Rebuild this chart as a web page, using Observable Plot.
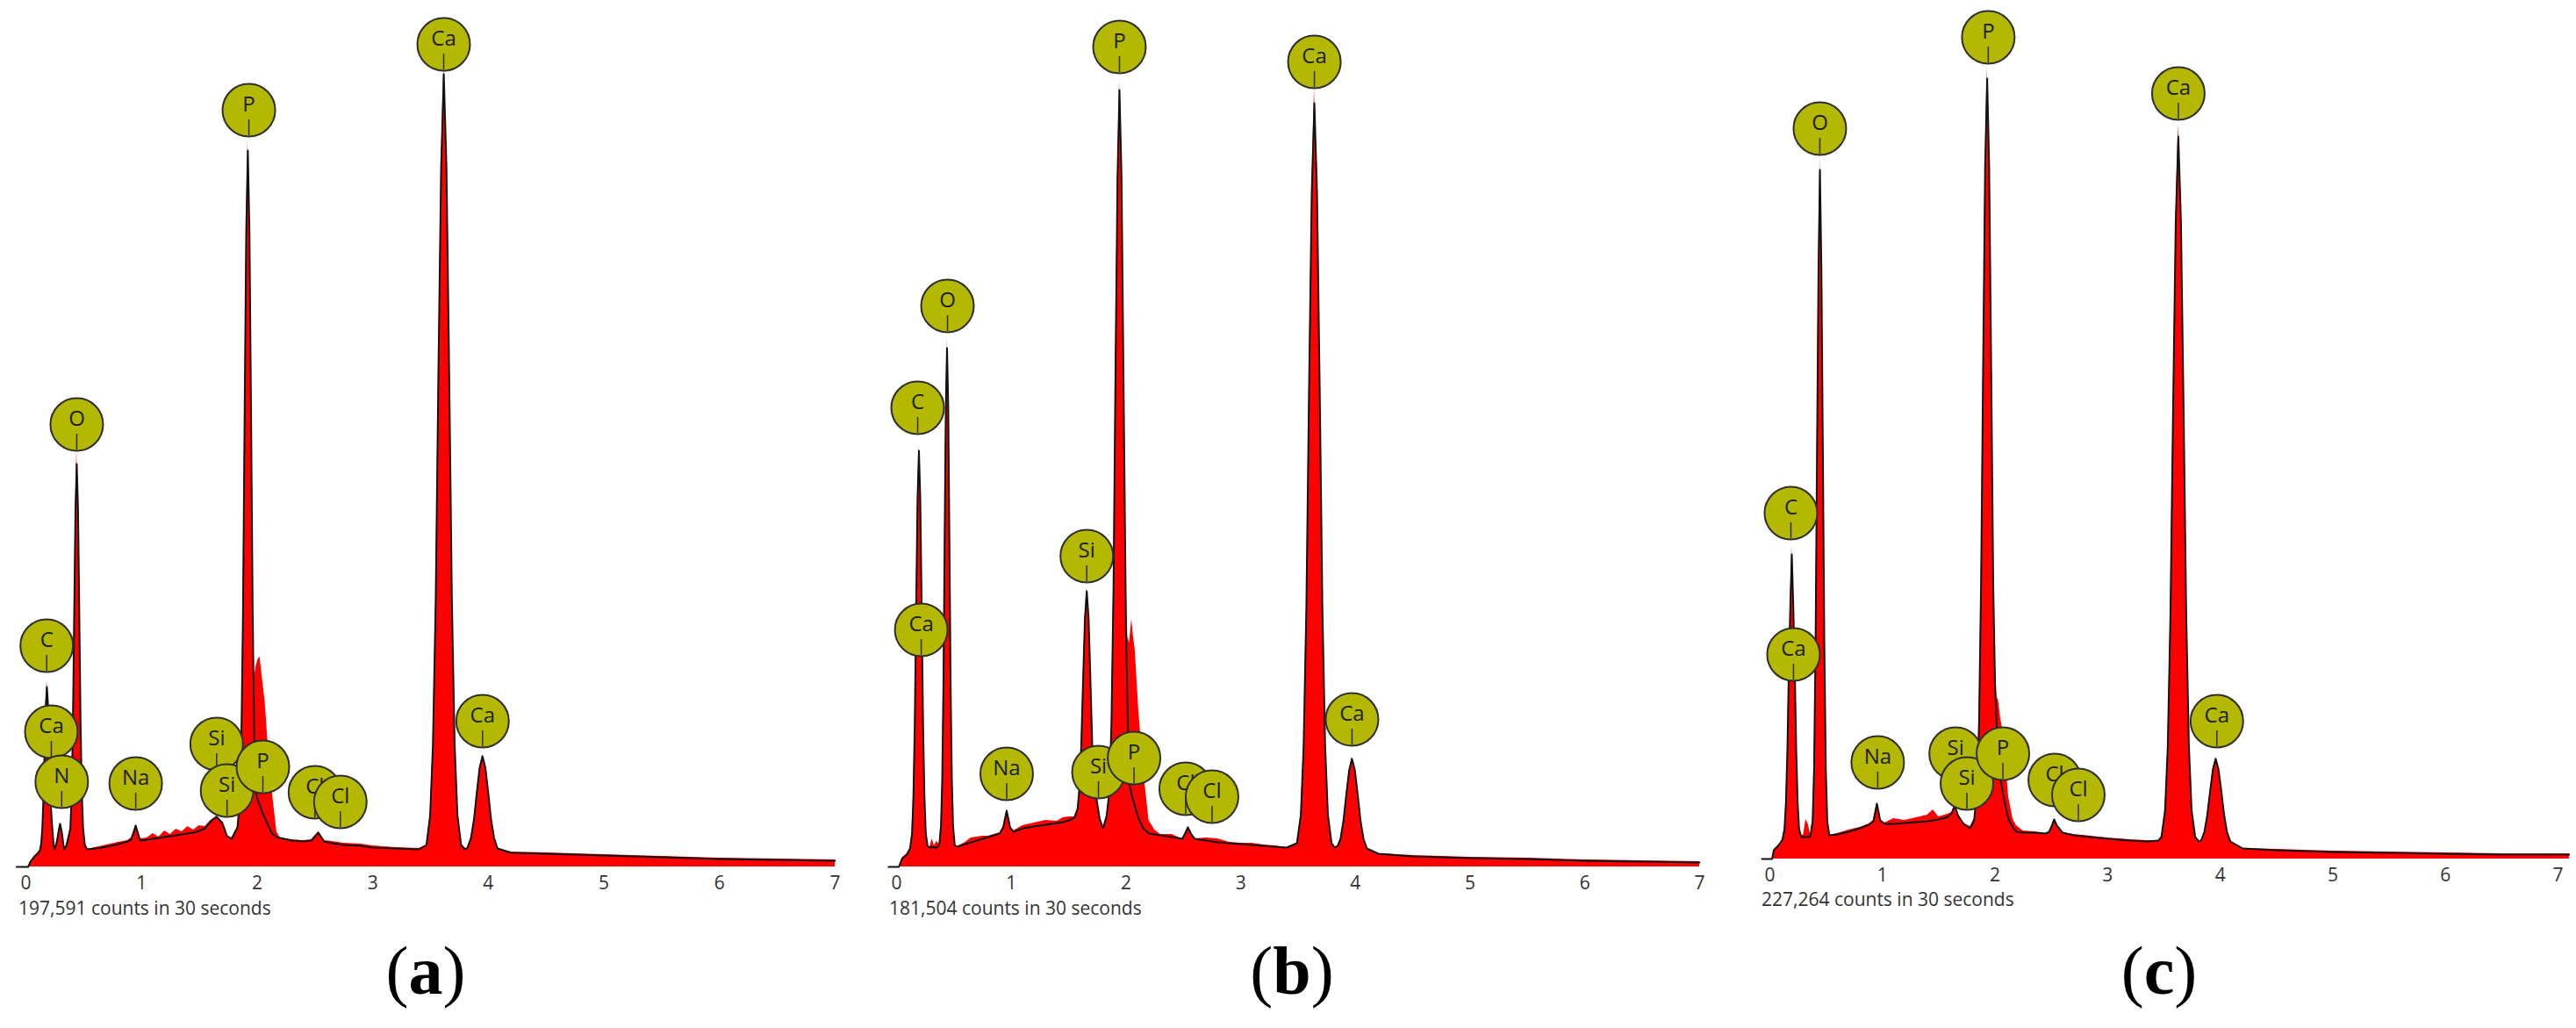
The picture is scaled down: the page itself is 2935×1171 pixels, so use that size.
<!DOCTYPE html>
<html><head><meta charset="utf-8">
<script src="https://cdn.jsdelivr.net/npm/d3@7"></script>
<script src="https://cdn.jsdelivr.net/npm/@observablehq/plot@0.6"></script>
<style>
html,body{margin:0;padding:0;background:#fff;}
#root{position:relative;width:2935px;height:1171px;overflow:hidden;background:#fff;}
.panel{position:absolute;top:0;}
.counts{position:absolute;font-family:"Open Sans";font-size:21px;line-height:21px;color:#333;white-space:nowrap;}
.tag{position:absolute;width:200px;text-align:center;font-family:"Liberation Serif";font-size:78px;line-height:78px;color:#000;}
.tag b{font-weight:bold;}
</style></head><body><div id="root"></div>
<script>
// x-axis ticks (keV)
const xTicks = [0, 1, 2, 3, 4, 5, 6, 7];
const panelTags = ["a", "b", "c"];
const countsText = ["197,591 counts in 30 seconds", "181,504 counts in 30 seconds", "227,264 counts in 30 seconds"];

// spectra: [energy keV, measured counts (red), fitted outline counts (black)]
const spectrumA = [
[-0.08,0,0],[0.02,0,0],[0.04,6,6],[0.07,12,11],[0.10,16,15],[0.12,19,18],[0.132,26,26],[0.142,43,43],
[0.152,78,78],[0.162,132,132],[0.172,183,183],[0.182,212,205],[0.192,183,183],[0.202,132,132],[0.212,80,78],
[0.225,52,50],[0.24,26,25],[0.25,21,20],[0.27,31,30],[0.285,43,42],[0.296,50,49],[0.31,41,40],[0.325,26,25],
[0.334,21,20],[0.35,25,24],[0.37,36,35],[0.385,45,44],[0.396,84,84],[0.407,164,164],[0.418,290,290],
[0.429,410,407],[0.44,474,459],[0.451,410,407],[0.462,290,290],[0.473,164,164],[0.484,84,84],[0.495,44,44],
[0.51,25,25],[0.53,20,20],[0.6,22,21],[0.7,25,23],[0.8,28,26],[0.88,30,29],[0.91,33,31],[0.93,40,38],
[0.95,48,47],[0.97,40,38],[0.99,32,30],[1.05,33,31],[1.1,38,32],[1.15,34,33],[1.2,41,34],[1.25,37,35],
[1.3,43,36],[1.35,40,37],[1.4,46,38],[1.45,42,39],[1.5,47,41],[1.55,46,44],[1.6,53,52],[1.65,58,57],
[1.7,51,50],[1.74,36,35],[1.78,33,32],[1.83,45,45],[1.85,74,74],[1.864,145,145],[1.878,288,288],
[1.892,513,513],[1.906,723,723],[1.92,828,816],[1.934,723,723],[1.948,513,513],[1.962,300,288],
[1.976,215,145],[1.99,228,84],[2.01,237,74],[2.025,239,70],[2.045,215,62],[2.07,187,55],[2.1,130,46],
[2.13,87,38],[2.17,40,34],[2.2,33,33],[2.3,31,30],[2.4,30,29],[2.47,31,30],[2.53,40,39],[2.58,30,29],
[2.65,29,27],[2.75,27,25],[2.9,26,24],[3.0,24,22],[3.2,22,21],[3.4,21,20],[3.465,25,25],[3.497,59,59],
[3.521,139,139],[3.545,303,303],[3.568,559,559],[3.592,797,797],[3.615,915,903],[3.638,797,797],
[3.662,559,559],[3.685,303,303],[3.709,139,139],[3.733,59,59],[3.765,25,25],[3.8,20,20],[3.82,22,22],
[3.85,33,33],[3.875,53,53],[3.9,84,84],[3.925,113,113],[3.95,128,126],[3.975,113,113],[4.0,84,84],
[4.025,53,53],[4.05,33,33],[4.08,21,21],[4.2,17,16],[4.5,16,15],[5.0,14,13],[5.5,12,11],[6.0,10,9],
[6.5,9,8],[7.0,8,7]
];
const spectrumB = [
[-0.07,0,0],[0.02,0,0],[0.05,10,10],[0.09,15,14],[0.118,21,21],[0.135,38,38],[0.147,80,80],[0.159,164,164],
[0.171,296,296],[0.183,419,419],[0.195,480,474],[0.207,419,419],[0.219,296,296],[0.231,164,164],[0.243,80,80],
[0.255,38,38],[0.27,24,24],[0.29,22,22],[0.31,32,23],[0.33,24,22],[0.35,29,22],[0.373,26,25],[0.3875,47,47],
[0.398,99,99],[0.4085,204,204],[0.419,369,369],[0.4295,525,523],[0.44,601,591],[0.4505,525,523],
[0.461,369,369],[0.4715,204,204],[0.482,99,99],[0.4925,47,47],[0.507,25,25],[0.53,23,23],[0.6,28,26],
[0.65,33,28],[0.7,34,30],[0.75,35,32],[0.8,35,34],[0.85,37,36],[0.9,39,38],[0.93,46,45],[0.96,65,64],
[0.99,46,45],[1.02,41,40],[1.1,47,44],[1.2,50,46],[1.3,53,48],[1.4,52,50],[1.45,56,51],[1.5,57,53],
[1.55,57,56],[1.578,66,66],[1.594,90,90],[1.61,138,138],[1.626,213,213],[1.642,283,283],[1.658,318,314],
[1.674,283,283],[1.69,213,213],[1.706,138,138],[1.722,100,100],[1.74,80,80],[1.77,55,55],[1.8,44,44],
[1.831,58,58],[1.856,87,87],[1.873,163,163],[1.891,317,317],[1.908,559,559],[1.926,785,785],[1.943,895,885],
[1.961,785,785],[1.978,560,559],[1.99,420,400],[2.0,330,270],[2.015,262,170],[2.03,255,94],[2.05,282,82],
[2.065,262,75],[2.08,247,68],[2.11,180,55],[2.15,113,44],[2.2,53,38],[2.25,42,37],[2.3,37,36],[2.4,37,34],
[2.49,32,32],[2.515,38,38],[2.54,46,45],[2.565,38,38],[2.6,32,32],[2.7,33,30],[2.8,32,28],[2.9,28,27],
[3.0,27,26],[3.1,27,25],[3.2,25,24],[3.3,24,23],[3.4,22,22],[3.49,27,27],[3.524,59,59],[3.548,137,137],
[3.572,294,294],[3.595,539,539],[3.619,768,768],[3.642,887,870],[3.665,768,768],[3.689,539,539],
[3.712,294,294],[3.736,137,137],[3.76,59,59],[3.792,27,27],[3.82,22,22],[3.845,24,24],[3.87,32,32],
[3.895,52,52],[3.92,82,82],[3.945,110,110],[3.97,125,123],[3.995,110,110],[4.02,82,82],[4.045,52,52],
[4.07,32,32],[4.1,21,21],[4.2,15,15],[4.5,13,12],[5.0,11,10],[5.5,10,9],[6.0,8,7],[6.5,7,6],[7.0,6,5]
];
const spectrumC = [
[-0.07,0,0],[0.02,0,0],[0.035,10,10],[0.08,16,16],[0.112,22,22],[0.13,34,34],[0.143,64,64],[0.156,125,125],
[0.169,218,218],[0.182,289,289],[0.195,357,347],[0.208,289,289],[0.221,218,218],[0.234,125,125],[0.247,64,64],
[0.26,34,34],[0.278,26,25],[0.3,28,25],[0.32,45,25],[0.34,40,25],[0.36,28,26],[0.38,43,43],[0.393,103,103],
[0.406,244,244],[0.419,463,463],[0.432,672,670],[0.445,800,785],[0.458,672,670],[0.471,463,463],
[0.484,244,244],[0.497,103,103],[0.51,43,43],[0.528,27,27],[0.6,29,28],[0.7,33,31],[0.8,36,35],[0.88,40,39],
[0.92,44,43],[0.951,64,63],[0.98,45,44],[1.02,41,40],[1.1,46,40],[1.2,44,41],[1.3,47,42],[1.4,50,43],
[1.45,56,44],[1.5,48,45],[1.58,51,48],[1.615,53,52],[1.642,62,61],[1.67,51,50],[1.72,41,40],[1.78,37,35],
[1.815,45,45],[1.84,77,77],[1.858,155,155],[1.876,312,312],[1.894,558,558],[1.912,789,789],[1.93,902,889],
[1.948,789,789],[1.966,558,558],[1.984,330,312],[2.0,230,200],[2.015,185,150],[2.03,181,115],[2.05,160,90],
[2.08,138,68],[2.12,71,45],[2.16,45,36],[2.19,38,31],[2.25,32,30],[2.35,31,30],[2.45,29,29],[2.48,31,31],
[2.505,38,38],[2.525,46,45],[2.55,38,38],[2.6,30,30],[2.7,28,27],[2.85,26,25],[3.0,24,23],[3.2,22,21],
[3.35,21,20],[3.45,21,21],[3.478,25,25],[3.51,55,55],[3.534,128,128],[3.558,278,278],[3.581,510,510],
[3.605,727,727],[3.628,838,823],[3.651,727,727],[3.675,510,510],[3.698,278,278],[3.722,128,128],
[3.746,55,55],[3.778,25,25],[3.81,20,20],[3.83,21,21],[3.86,31,31],[3.885,50,50],[3.91,77,77],
[3.935,102,102],[3.96,116,114],[3.985,102,102],[4.01,77,77],[4.035,50,50],[4.06,31,31],[4.09,20,20],
[4.2,12,12],[4.5,11,10],[5.0,9,8],[5.5,8,7],[6.0,7,6],[6.5,6,5],[7.1,6,5]
];

// element markers: [symbol, energy keV, marker level (counts)]
const labelsA = [
["Ca",3.614,937],["P",1.929,862],["O",0.44,504],["C",0.18,252],["Ca",0.22,154],["N",0.31,97],
["Na",0.95,95],["Si",1.65,140],["Si",1.74,87],["P",2.05,114],["Cl",2.50,85],["Cl",2.72,74],["Ca",3.95,166]
];
const labelsB = [
["P",1.943,934],["Ca",3.642,917],["O",0.444,639],["C",0.184,523],["Si",1.658,354],["Ca",0.215,270],
["Na",0.96,106],["Si",1.76,108],["P",2.07,124],["Cl",2.52,89],["Cl",2.75,80],["Ca",3.97,168]
];
const labelsC = [
["P",1.94,936],["Ca",3.628,872],["O",0.444,832],["C",0.187,394],["Ca",0.21,233],["Na",0.958,110],
["Si",1.65,120],["Si",1.75,86],["P",2.07,120],["Cl",2.53,90],["Cl",2.74,73],["Ca",3.97,157]
];

const layouts = [
  {spec: spectrumA, labels: labelsA, left: 0,    width: 978, ml: 29, mr: 27, base: 987, capLeft: 21,   capTop: 1024, tagX: 485},
  {spec: spectrumB, labels: labelsB, left: 1000, width: 960, ml: 21, mr: 24, base: 987, capLeft: 1013, capTop: 1024, tagX: 1472},
  {spec: spectrumC, labels: labelsC, left: 1990, width: 945, ml: 26, mr: 21, base: 978, capLeft: 2007, capTop: 1014, tagX: 2460}
];

const root = document.getElementById("root");
const H = 1060;

layouts.forEach((L, i) => {
  const data = L.spec.map(([e, f, l]) => ({e, f, l}));
  const labs = L.labels.map(([el, e, v]) => ({el, e, v}));
  const labelMarks = labs.flatMap(d => [
    Plot.dot([d], {x: "e", y: "v", r: 30, fill: "#b4b800", stroke: "#2e2e2e", strokeWidth: 2}),
    Plot.text([d], {x: "e", y: "v", text: "el", dy: -6, fontSize: 24, fill: "#1e1e1e", fontFamily: "Open Sans"}),
    Plot.ruleX([d], {x: "e", y1: q => q.v - 11, y2: q => q.v - 29, stroke: "#2e2e2e", strokeWidth: 1.5})
  ]);
  const chart = Plot.plot({
    width: L.width,
    height: H,
    marginLeft: L.ml,
    marginRight: L.mr,
    marginTop: 0,
    marginBottom: H - L.base,
    x: {domain: [0, 7], label: null},
    y: {domain: [0, L.base], axis: null},
    style: {fontFamily: "Open Sans", fontSize: "21px", color: "#333", background: "transparent", overflow: "visible"},
    marks: [
      Plot.areaY(data, {x: "e", y1: 0, y2: "f", fill: "#ff0000"}),
      Plot.lineY(data, {x: "e", y: "l", stroke: "#111", strokeWidth: 2, strokeLinejoin: "round"}),
      Plot.axisX({ticks: xTicks, tickSize: 0, tickPadding: 11, tickFormat: d => String(d), fontSize: 21, fill: "#333", label: null}),
      ...labelMarks
    ]
  });
  const wrap = document.createElement("div");
  wrap.className = "panel";
  wrap.style.left = L.left + "px";
  wrap.appendChild(chart);
  root.appendChild(wrap);

  const cap = document.createElement("div");
  cap.className = "counts";
  cap.style.left = L.capLeft + "px";
  cap.style.top = L.capTop + "px";
  cap.textContent = countsText[i];
  root.appendChild(cap);

  const tag = document.createElement("div");
  tag.className = "tag";
  tag.style.left = (L.tagX - 100) + "px";
  tag.style.top = "1067px";
  tag.innerHTML = "(<b>" + panelTags[i] + "</b>)";
  root.appendChild(tag);
});
</script></body></html>
